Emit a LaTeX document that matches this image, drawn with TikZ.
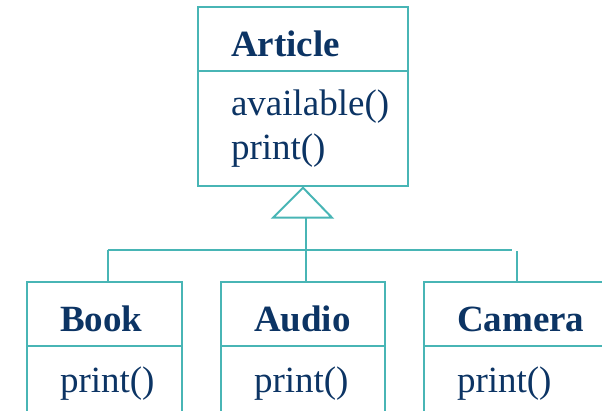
\documentclass[tikz,border=0pt]{standalone}
\usepackage{fontspec}
\setmainfont{Liberation Serif}
\usetikzlibrary{chains,positioning}
\definecolor{umlline}{RGB}{72,181,181}
\definecolor{umltext}{RGB}{12,52,100}

\begin{document}
\begin{tikzpicture}[
x=1pt, y=-1pt,
line width=2pt,
node distance=39pt,
 start chain = S going right,
    H/.style = {rectangle, draw=umlline,% class name part
                text width=#1-66pt, align=left, inner xsep=33pt, inner ysep=0pt,
                minimum height=64pt, text height=35pt, text depth=0pt,
                outer sep=0pt, text=umltext, font=\fontsize{37}{44}\selectfont\bfseries},
    M/.style = {rectangle, draw=umlline,% method part
                text width=#1-66pt, align=left, inner xsep=33pt, inner ysep=0pt,
                outer sep=0pt, text=umltext, font=\fontsize{37}{44}\selectfont},
                        ]
\useasboundingbox (0,0) rectangle (602,411);
% superclass
\node[H=210pt, anchor=north west] (art) at (198,6.7) {Article};
\node[M=210pt, minimum height=115pt, below=0pt of art] (artm) {available()\\print()};
% subclasses
\node[H=155pt, on chain, anchor=north west] at (27,281.7) {Book};
\node[H=164pt, on chain] {Audio};
\node[H=200pt, on chain] {Camera};
\foreach \i/\w in {1/155pt,2/164pt,3/200pt}% <-- width of each class
    \node[M=\w, minimum height=76pt, below=0pt of S-\i] (Sm-\i) {print()};
% generalisation
\path (artm.south) ++(0,2) coordinate (apex);
\draw[umlline] (apex) -- ++(-30,30) coordinate (base) -- ++(59,0) -- cycle;
\coordinate (bar) at (0,250);
\draw[umlline] ([xshift=3pt]S-2.north) -- ([xshift=3pt]S-2.north |- base);
\draw[umlline] ([xshift=3pt]S-1.north |- bar) -- ([xshift=-12pt]S-3.north |- bar);
\draw[umlline] ([xshift=3pt]S-1.north) -- ([xshift=3pt]S-1.north |- bar);
\draw[umlline] ([xshift=-7pt]S-3.north) -- ++(0,-31);
\end{tikzpicture}
\end{document}
